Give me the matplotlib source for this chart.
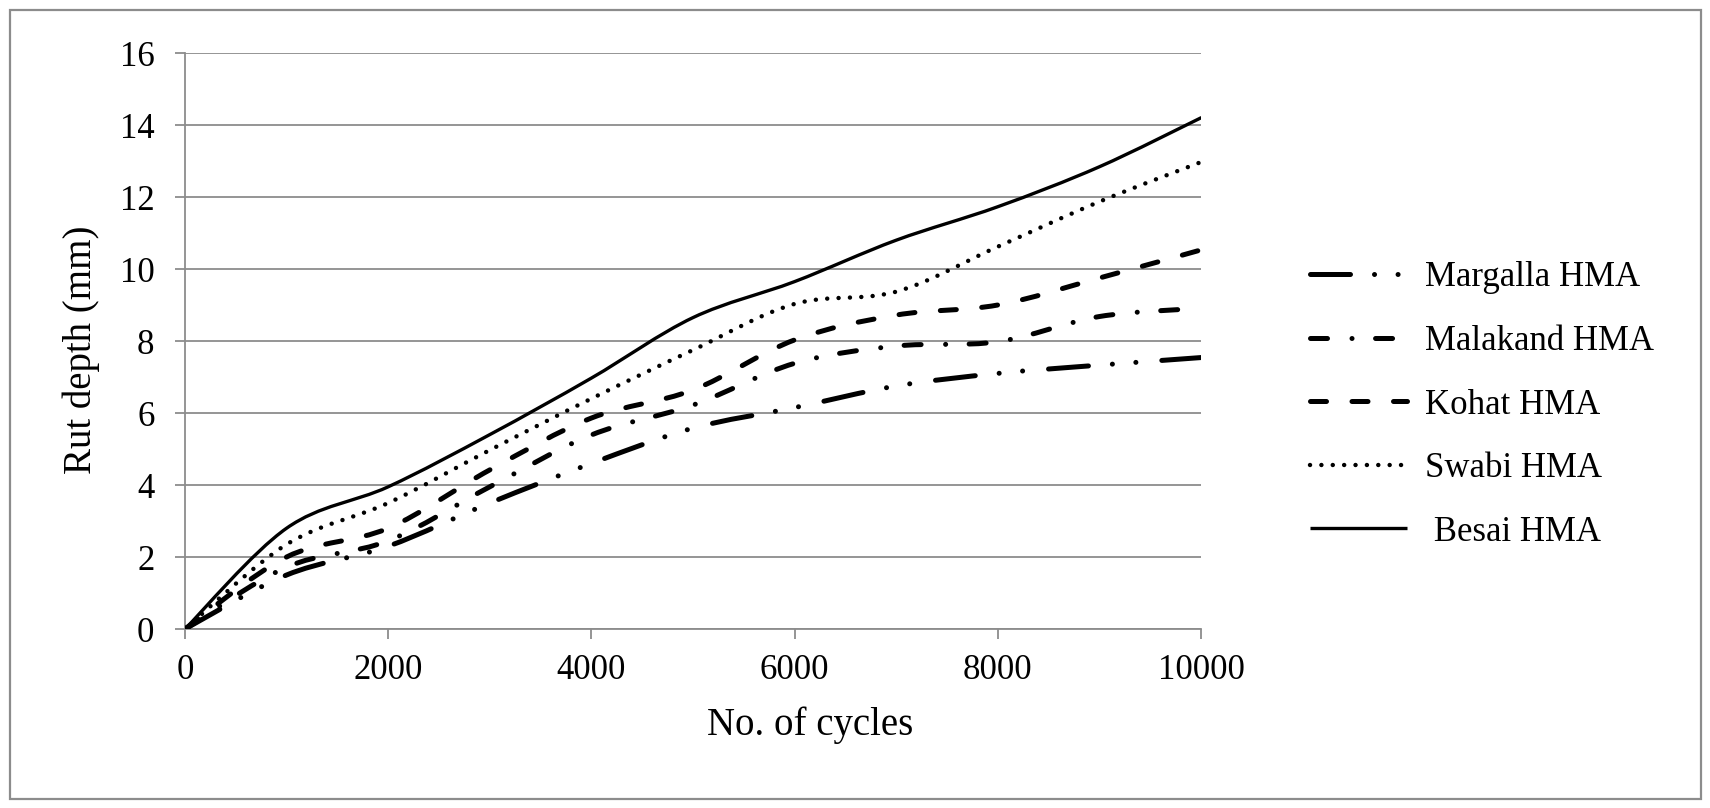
import numpy as np
import matplotlib
matplotlib.use('Agg')
import matplotlib.pyplot as plt
from matplotlib.path import Path
from matplotlib.patches import PathPatch, Rectangle
from matplotlib.lines import Line2D

plt.rcParams['font.family'] = ['Liberation Serif', 'DejaVu Serif']

# data
cycles = [0, 1000, 2000, 3000, 4000, 5000, 6000, 7000, 8000, 9000, 10000]
margalla = [0, 1.5, 2.3, 3.5, 4.6, 5.58, 6.15, 6.75, 7.1, 7.33, 7.54]
malakand = [0, 1.72, 2.45, 3.95, 5.39, 6.22, 7.38, 7.86, 7.98, 8.68, 8.91]
kohat = [0, 2.0, 2.8, 4.42, 5.86, 6.64, 8.03, 8.72, 9.0, 9.75, 10.53]
swabi = [0, 2.35, 3.5, 4.97, 6.4, 7.75, 9.03, 9.37, 10.62, 11.87, 12.97]
besai = [0, 2.8, 3.95, 5.4, 6.97, 8.65, 9.65, 10.8, 11.73, 12.84, 14.2]

labels = ['Margalla HMA', 'Malakand HMA', 'Kohat HMA', 'Swabi HMA', ' Besai HMA']
series = [margalla, malakand, kohat, swabi, besai]
styles = [
    dict(lw=3.6, ls=(0, (8, 4.8, 0.01, 4.7, 0.01, 5.2))),
    dict(lw=3.6, ls=(0, (3.4, 4.9, 0.01, 4.7))),
    dict(lw=3.6, ls=(0, (3.2, 5.1))),
    dict(lw=3.2, ls=(0, (0.01, 2.55))),
    dict(lw=2.4, ls='-'),
]

grid_col = '#8c8c8c'


def smooth_path(x, y):
    # Excel style smoothed line: cubic bezier through every point
    pts = np.column_stack([x, y]).astype(float)
    ext = np.vstack([pts[0], pts, pts[-1]])
    verts = [pts[0]]
    codes = [Path.MOVETO]
    for i in range(len(pts) - 1):
        p0, p1, p2, p3 = ext[i], ext[i + 1], ext[i + 2], ext[i + 3]
        verts += [p1 + (p2 - p0) / 6, p2 - (p3 - p1) / 6, p2]
        codes += [Path.CURVE4] * 3
    return Path(verts, codes)


fig = plt.figure(figsize=(17.1, 8.08), dpi=100)
ax = fig.add_axes([185 / 1710, 1 - 629 / 808, 1016 / 1710, 576 / 808])

handles = []
for vals, st, lab in zip(series, styles, labels):
    patch = PathPatch(smooth_path(cycles, vals), fill=False, edgecolor='black',
                      lw=st['lw'], linestyle=st['ls'], capstyle='round',
                      joinstyle='round', zorder=3)
    ax.add_patch(patch)
    handles.append(Line2D([], [], color='black', lw=st['lw'], linestyle=st['ls'],
                          dash_capstyle='round', solid_capstyle='butt', label=lab))

ax.set_xlim(0, 10000)
ax.set_ylim(0, 16)
ax.set_xticks(range(0, 10001, 2000))
ax.set_yticks(range(0, 17, 2))
ax.yaxis.grid(True, color=grid_col, lw=1.3)
ax.set_axisbelow(True)
for s in ['top', 'right']:
    ax.spines[s].set_visible(False)
for s in ['left', 'bottom']:
    ax.spines[s].set_color(grid_col)
    ax.spines[s].set_linewidth(1.3)
ax.tick_params(axis='both', direction='out', length=7, width=1.3, color=grid_col,
               labelsize=25)
ax.tick_params(axis='y', pad=15)
ax.tick_params(axis='x', pad=11)

ax.set_xlabel('No. of cycles', fontsize=28)
ax.xaxis.set_label_coords(0.615, -0.134)
ax.set_ylabel('Rut depth (mm)', fontsize=28)
ax.yaxis.set_label_coords(-0.084, 0.484)

fig.legend(handles=handles, loc='center left', bbox_to_anchor=(1310 / 1710, 1 - 405 / 808),
           frameon=False, fontsize=25, handlelength=2.8, handletextpad=0.5,
           labelspacing=0.88, borderpad=0, borderaxespad=0)

# chart area border
fig.patches.append(Rectangle((10 / 1710, 1 - 799 / 808), 1691 / 1710, 789 / 808,
                             transform=fig.transFigure, fill=False,
                             edgecolor=grid_col, lw=1.6))

fig.savefig('out.png', dpi=100)
